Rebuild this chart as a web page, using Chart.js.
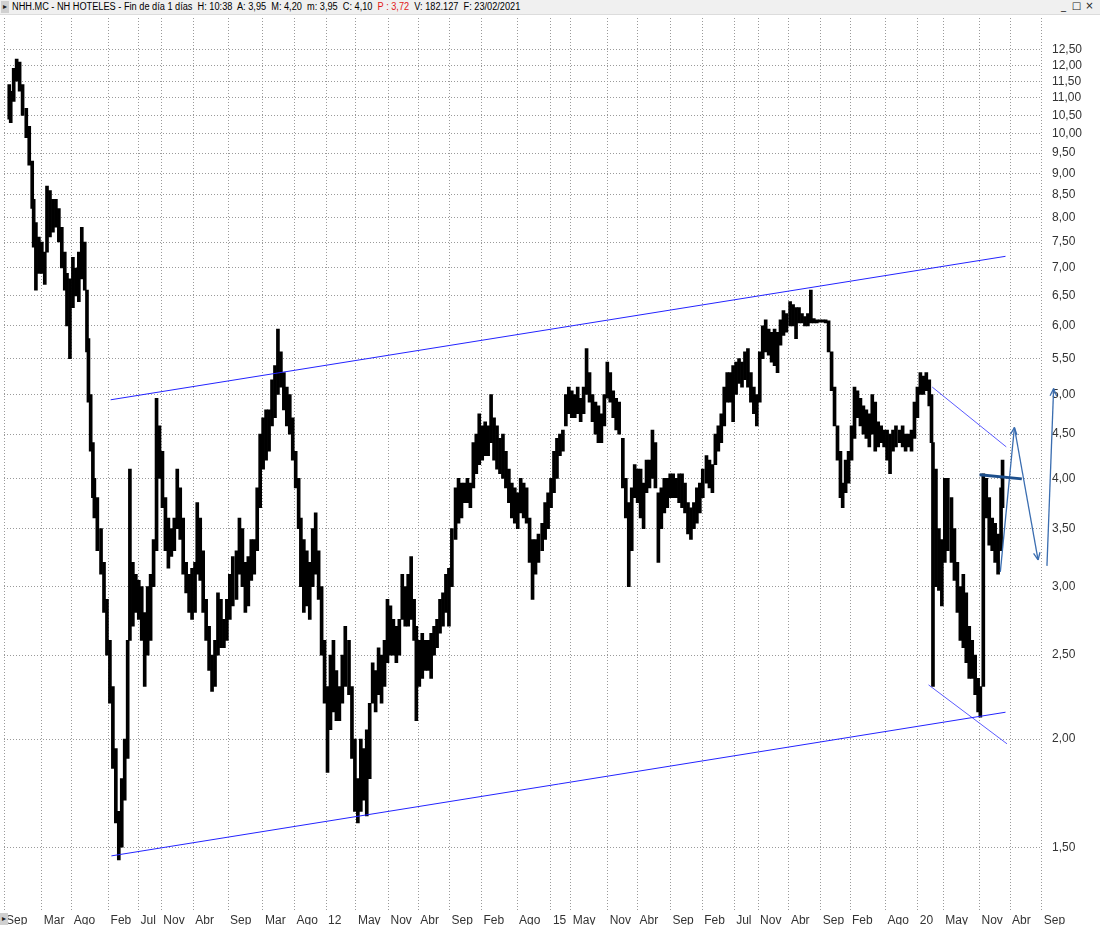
<!DOCTYPE html>
<html>
<head>
<meta charset="utf-8">
<title>NHH.MC - NH HOTELES</title>
<script src="https://cdn.jsdelivr.net/npm/chart.js@4.4.1/dist/chart.umd.min.js"></script>
<style>
html, body { margin: 0; padding: 0; background: #fff; }
#wrap { position: relative; width: 1100px; height: 927px; overflow: hidden; }
#chart { position: absolute; left: 0; top: 0; }
#header {
    position: absolute; left: 0; top: 0; width: 1100px; height: 14px;
    background: #f0f0f0; border-bottom: 1px solid #dcdcdc;
    font: 10px "Liberation Sans", Arial, sans-serif; line-height: 14px;
    color: #000; white-space: pre;
}
#header .txt { position: absolute; left: 12px; top: 0; transform: scaleX(0.92); transform-origin: left center; }
#header .red { color: #e01818; }
.tri {
    position: absolute; width: 8px; height: 12px; background: #d0d0d0;
    font: 8px "DejaVu Sans", sans-serif; line-height: 12px; text-align: center; color: #222;
}
#header .btns { position: absolute; right: 4px; top: 0; font: 10px "DejaVu Sans", sans-serif; color: #222; }
#header .btns span { display: inline-block; width: 13px; text-align: center; }
</style>
</head>
<body>
<div id="wrap">
    <canvas id="chart" width="1100" height="927"></canvas>
    <div id="header"><span class="tri" style="left:1px;top:1px;">&#9656;</span><span class="txt">NHH.MC - NH HOTELES - Fin de día 1 días  H: 10:38  A: 3,95  M: 4,20  m: 3,95  C: 4,10  <span class="red">P : 3,72</span>  V: 182.127  F: 23/02/2021</span><span class="btns"><span>_</span><span>&#9633;</span><span>&#215;</span></span></div>
    <span class="tri" style="left:0;top:913px;">&#9656;</span>
</div>

<script>

// ==========================================
// Data
// ==========================================

const dates = [
    2007.73, 2007.75, 2007.79, 2007.83, 2007.87, 2007.91, 2007.96, 2008.00, 2008.04, 2008.06,
    2008.09, 2008.13, 2008.17, 2008.21, 2008.24, 2008.28, 2008.32, 2008.36, 2008.40, 2008.44,
    2008.48, 2008.51, 2008.55, 2008.59, 2008.63, 2008.67, 2008.71, 2008.75, 2008.78, 2008.80,
    2008.83, 2008.86, 2008.88, 2008.92, 2008.97, 2009.01, 2009.05, 2009.09, 2009.13, 2009.17,
    2009.21, 2009.25, 2009.29, 2009.33, 2009.36, 2009.40, 2009.44, 2009.48, 2009.52, 2009.56,
    2009.60, 2009.64, 2009.68, 2009.72, 2009.76, 2009.80, 2009.84, 2009.88, 2009.92, 2009.96,
    2010.00, 2010.04, 2010.08, 2010.12, 2010.16, 2010.20, 2010.24, 2010.27, 2010.31, 2010.35,
    2010.39, 2010.43, 2010.47, 2010.51, 2010.55, 2010.59, 2010.63, 2010.67, 2010.71, 2010.75,
    2010.80, 2010.84, 2010.88, 2010.92, 2010.96, 2011.00, 2011.04, 2011.08, 2011.12, 2011.16,
    2011.20, 2011.24, 2011.28, 2011.32, 2011.36, 2011.40, 2011.44, 2011.48, 2011.52, 2011.56,
    2011.60, 2011.64, 2011.67, 2011.71, 2011.75, 2011.79, 2011.83, 2011.87, 2011.91, 2011.95,
    2011.99, 2012.03, 2012.07, 2012.11, 2012.15, 2012.19, 2012.23, 2012.27, 2012.32, 2012.36,
    2012.40, 2012.44, 2012.48, 2012.52, 2012.56, 2012.60, 2012.64, 2012.68, 2012.72, 2012.76,
    2012.80, 2012.84, 2012.88, 2012.92, 2012.96, 2013.00, 2013.04, 2013.08, 2013.12, 2013.16,
    2013.20, 2013.23, 2013.27, 2013.31, 2013.35, 2013.39, 2013.43, 2013.47, 2013.51, 2013.55,
    2013.59, 2013.63, 2013.67, 2013.71, 2013.76, 2013.80, 2013.84, 2013.88, 2013.92, 2013.96,
    2014.00, 2014.04, 2014.08, 2014.12, 2014.16, 2014.20, 2014.24, 2014.28, 2014.32, 2014.36,
    2014.40, 2014.44, 2014.48, 2014.52, 2014.56, 2014.60, 2014.64, 2014.68, 2014.72, 2014.76,
    2014.80, 2014.84, 2014.88, 2014.93, 2014.97, 2015.01, 2015.05, 2015.09, 2015.13, 2015.17,
    2015.21, 2015.25, 2015.29, 2015.33, 2015.37, 2015.41, 2015.45, 2015.49, 2015.53, 2015.57,
    2015.61, 2015.65, 2015.69, 2015.73, 2015.77, 2015.81, 2015.85, 2015.89, 2015.93, 2015.97,
    2016.02, 2016.06, 2016.10, 2016.14, 2016.18, 2016.22, 2016.26, 2016.30, 2016.34, 2016.38,
    2016.42, 2016.46, 2016.50, 2016.54, 2016.58, 2016.62, 2016.66, 2016.70, 2016.74, 2016.78,
    2016.82, 2016.86, 2016.90, 2016.94, 2016.98, 2017.02, 2017.06, 2017.10, 2017.15, 2017.19,
    2017.23, 2017.27, 2017.31, 2017.35, 2017.39, 2017.43, 2017.47, 2017.51, 2017.55, 2017.59,
    2017.63, 2017.67, 2017.71, 2017.75, 2017.79, 2017.83, 2017.87, 2017.91, 2017.95, 2017.99,
    2018.03, 2018.07, 2018.11, 2018.15, 2018.19, 2018.23, 2018.28, 2018.32, 2018.36, 2018.40,
    2018.44, 2018.48, 2018.52, 2018.56, 2018.60, 2018.64, 2018.68, 2018.72, 2018.76, 2018.80,
    2018.84, 2018.88, 2018.92, 2018.96, 2018.99, 2019.03, 2019.07, 2019.11, 2019.15, 2019.19,
    2019.23, 2019.27, 2019.31, 2019.35, 2019.39, 2019.43, 2019.47, 2019.51, 2019.55, 2019.59,
    2019.63, 2019.67, 2019.71, 2019.76, 2019.80, 2019.84, 2019.88, 2019.92, 2019.96, 2020.00,
    2020.04, 2020.08, 2020.12, 2020.16, 2020.19, 2020.21, 2020.25, 2020.29, 2020.33, 2020.37,
    2020.41, 2020.46, 2020.50, 2020.54, 2020.58, 2020.62, 2020.66, 2020.70, 2020.74, 2020.78,
    2020.82, 2020.85, 2020.89, 2020.93, 2020.97, 2021.01, 2021.05, 2021.09, 2021.13, 2021.15
];

const highs = [
    11.4, 11.2, 11.9, 12.2, 12.1, 11.4, 10.7, 10.2, 9.3, 8.4,
    7.9, 7.6, 7.5, 7.3, 8.7, 8.6, 8.4, 8.4, 8.2, 7.8,
    7.3, 6.9, 6.8, 7.2, 7.0, 7.3, 7.8, 7.5, 6.6, 5.8,
    5.0, 4.4, 4.0, 3.8, 3.5, 3.2, 2.9, 2.6, 2.3, 1.95,
    1.65, 1.8, 2.0, 2.6, 4.1, 3.2, 3.1, 3.05, 3.0, 2.8,
    3.0, 3.1, 3.4, 4.95, 4.6, 4.3, 3.8, 3.6, 3.5, 3.6,
    4.1, 3.9, 3.6, 3.2, 3.1, 3.15, 3.2, 3.75, 3.6, 3.3,
    2.9, 2.7, 2.5, 2.6, 2.95, 2.9, 2.75, 2.9, 3.1, 3.25,
    3.3, 3.6, 3.5, 3.2, 3.25, 3.4, 3.4, 3.9, 4.5, 4.7,
    4.8, 4.8, 5.2, 5.4, 5.95, 5.6, 5.3, 5.1, 5.0, 4.7,
    4.3, 4.0, 3.6, 3.4, 3.3, 3.2, 3.5, 3.65, 3.3, 3.0,
    2.6, 2.3, 2.5, 2.6, 2.4, 2.3, 2.5, 2.7, 2.6, 2.3,
    2.0, 1.8, 2.0, 1.95, 2.05, 2.2, 2.45, 2.4, 2.55, 2.5,
    2.6, 2.9, 2.85, 2.75, 2.7, 2.75, 3.1, 3.0, 3.1, 3.25,
    2.9, 2.7, 2.6, 2.65, 2.6, 2.6, 2.65, 2.7, 2.75, 2.9,
    2.95, 3.1, 3.15, 3.5, 3.9, 4.0, 3.95, 3.95, 4.0, 3.95,
    4.4, 4.5, 4.75, 4.6, 4.65, 4.6, 5.0, 4.7, 4.6, 4.45,
    4.5, 4.3, 4.1, 3.95, 3.9, 3.85, 4.0, 3.95, 3.9, 3.6,
    3.4, 3.4, 3.45, 3.55, 3.75, 3.85, 4.0, 4.3, 4.45, 4.5,
    4.55, 5.0, 5.1, 5.05, 5.0, 5.1, 4.95, 5.1, 5.65, 5.3,
    5.0, 4.9, 4.85, 4.75, 5.0, 5.45, 5.3, 5.05, 4.95, 4.9,
    4.45, 4.0, 3.75, 3.9, 4.15, 4.1, 4.1, 3.95, 4.2, 4.2,
    4.55, 4.4, 3.85, 3.9, 4.0, 4.0, 4.05, 4.05, 4.0, 4.05,
    4.05, 3.95, 3.75, 3.7, 3.75, 3.9, 3.95, 4.1, 4.25, 4.2,
    4.15, 4.5, 4.6, 4.75, 5.1, 5.3, 5.3, 5.4, 5.45, 5.5,
    5.45, 5.6, 5.65, 5.3, 5.1, 5.0, 5.6, 6.0, 6.1, 5.95,
    5.9, 5.95, 5.9, 6.1, 6.25, 6.2, 6.4, 6.35, 6.3, 6.3,
    6.2, 6.15, 6.2, 6.6, 6.12, 6.1, 6.1, 6.1, 6.1, 6.08,
    5.6, 5.1, 4.6, 4.3, 3.95, 4.2, 4.3, 4.6, 5.1, 5.05,
    4.95, 4.85, 4.8, 4.75, 5.0, 4.9, 4.65, 4.6, 4.55, 4.55,
    4.5, 4.55, 4.6, 4.55, 4.6, 4.5, 4.5, 4.55, 4.9, 5.1,
    5.3, 5.25, 5.3, 5.2, 5.0, 4.4, 4.1, 3.5, 3.4, 4.0,
    4.0, 3.8, 3.5, 3.2, 3.0, 3.1, 2.95, 2.7, 2.6, 2.5,
    2.35, 2.3, 4.05, 4.0, 3.8, 3.6, 3.55, 3.45, 3.9, 4.2
];

const lows = [
    10.4, 10.3, 10.9, 11.5, 11.2, 10.5, 9.9, 9.2, 8.2, 7.4,
    6.6, 6.9, 6.9, 6.7, 7.3, 7.6, 7.7, 7.8, 7.5, 7.0,
    6.6, 6.0, 5.5, 6.3, 6.5, 6.4, 6.8, 6.6, 5.6, 4.9,
    4.3, 3.8, 3.6, 3.3, 3.1, 2.8, 2.5, 2.2, 1.85, 1.6,
    1.45, 1.5, 1.7, 1.9, 2.6, 2.7, 2.8, 2.75, 2.6, 2.3,
    2.5, 2.6, 3.0, 3.3, 4.0, 3.7, 3.3, 3.15, 3.25, 3.3,
    3.5, 3.4, 3.1, 2.95, 2.8, 2.75, 2.8, 3.1, 3.05, 2.8,
    2.6, 2.4, 2.27, 2.3, 2.5, 2.55, 2.55, 2.6, 2.75, 2.85,
    2.9, 3.1, 3.0, 2.8, 2.85, 3.05, 3.1, 3.3, 3.7, 4.1,
    4.2, 4.3, 4.6, 4.7, 5.0, 5.1, 4.8, 4.6, 4.5, 4.2,
    3.9, 3.5, 3.0, 2.8, 2.85, 2.75, 3.0, 3.1, 2.9, 2.5,
    2.2, 1.83, 2.05, 2.15, 2.1, 2.1, 2.2, 2.3, 2.25, 1.9,
    1.65, 1.6, 1.65, 1.7, 1.63, 1.8, 2.2, 2.15, 2.25, 2.2,
    2.3, 2.45, 2.5, 2.5, 2.45, 2.5, 2.75, 2.7, 2.7, 2.75,
    2.6, 2.1, 2.3, 2.35, 2.4, 2.4, 2.35, 2.5, 2.55, 2.65,
    2.7, 2.8, 2.7, 3.0, 3.4, 3.55, 3.6, 3.75, 3.75, 3.7,
    3.9, 4.05, 4.15, 4.2, 4.25, 4.25, 4.4, 4.2, 4.1, 4.05,
    4.0, 3.9, 3.75, 3.6, 3.55, 3.5, 3.65, 3.6, 3.55, 3.2,
    2.9, 3.1, 3.2, 3.3, 3.4, 3.5, 3.7, 3.85, 4.0, 4.25,
    4.3, 4.6, 4.75, 4.7, 4.7, 4.75, 4.65, 4.75, 5.0, 4.9,
    4.65, 4.5, 4.4, 4.4, 4.6, 4.95, 4.9, 4.7, 4.55, 4.5,
    3.9, 3.6, 3.0, 3.3, 3.8, 3.75, 3.6, 3.5, 3.85, 3.9,
    4.0, 3.9, 3.2, 3.5, 3.65, 3.7, 3.8, 3.8, 3.8, 3.75,
    3.7, 3.65, 3.45, 3.4, 3.5, 3.55, 3.65, 3.8, 3.95, 3.9,
    3.85, 4.15, 4.3, 4.4, 4.6, 4.9, 4.9, 4.65, 5.0, 5.15,
    5.1, 5.2, 5.1, 4.9, 4.75, 4.6, 4.9, 5.5, 5.6, 5.55,
    5.45, 5.4, 5.3, 5.7, 5.85, 5.9, 6.0, 6.0, 5.8, 6.05,
    6.05, 6.0, 6.0, 6.05, 6.05, 6.05, 6.06, 6.06, 6.05, 5.6,
    5.05, 4.6, 4.2, 3.8, 3.7, 3.85, 3.95, 4.2, 4.45, 4.7,
    4.6, 4.5, 4.45, 4.35, 4.5, 4.3, 4.35, 4.4, 4.35, 4.2,
    4.05, 4.3, 4.35, 4.4, 4.35, 4.3, 4.35, 4.3, 4.45, 4.7,
    5.0, 5.0, 5.05, 4.85, 4.4, 2.3, 3.0, 2.97, 2.85, 3.2,
    3.3, 3.2, 3.05, 2.8, 2.6, 2.55, 2.45, 2.35, 2.35, 2.25,
    2.15, 2.12, 2.3, 3.6, 3.35, 3.3, 3.2, 3.1, 3.3, 3.7
];

// trend lines drawn on the chart: [date, price]
const upperChannel = [[2009.10, 4.93], [2021.19, 7.22]];
const lowerChannel = [[2009.11, 1.466], [2021.19, 2.148]];
const upperWedge   = [[2020.20, 5.10], [2021.20, 4.35]];
const lowerWedge   = [[2020.15, 2.31], [2021.21, 1.975]];
const neckline     = [[2020.84, 4.04], [2021.41, 3.995]];
const arrowUp1     = [[2021.12, 3.12], [2021.31, 4.58]];
const arrowDown    = [[2021.31, 4.58], [2021.63, 3.22]];
const arrowUp2     = [[2021.75, 3.17], [2021.84, 5.08]];

// axes
const xMin = 2007.659;
const xMax = 2021.683;
const yMin = 1.2702;
const yMax = 13.607;

const xTickValues = [
    2007.659, 2008.170, 2008.574, 2009.072, 2009.476, 2009.785, 2010.216, 2010.687, 2011.158, 2011.584,
    2012.010, 2012.414, 2012.854, 2013.257, 2013.679, 2014.109, 2014.590, 2015.048, 2015.317, 2015.815,
    2016.219, 2016.663, 2017.093, 2017.524, 2017.847, 2018.264, 2018.695, 2019.089, 2019.570, 2020.004,
    2020.350, 2020.839, 2021.252, 2021.679
];

const xTickLabels = [
    "Sep", "Mar", "Ago", "Feb", "Jul", "Nov", "Abr", "Sep", "Mar", "Ago",
    "12", "May", "Nov", "Abr", "Sep", "Feb", "Ago", "15", "May", "Nov",
    "Abr", "Sep", "Feb", "Jul", "Nov", "Abr", "Sep", "Feb", "Ago", "20",
    "May", "Nov", "Abr", "Sep"
];

const yTickValues = [1.5, 2, 2.5, 3, 3.5, 4, 4.5, 5, 5.5, 6, 6.5, 7, 7.5, 8, 8.5, 9, 9.5, 10, 10.5, 11, 11.5, 12, 12.5];


// ==========================================
// Helpers
// ==========================================

function toPoints(pairs) {
    return pairs.map(p => ({ x: p[0], y: p[1] }));
}

function trendLine(pairs, color, width, arrow) {
    return {
        type: "line",
        data: toPoints(pairs),
        borderColor: color,
        borderWidth: width,
        pointRadius: 0,
        fill: false,
        tension: 0,
        clip: false,
        order: 0,
        arrow: arrow
    };
}

// open arrow heads at the end of the arrow segments
const arrowHeads = {
    id: "arrowHeads",
    afterDatasetsDraw(chart) {
        const ctx = chart.ctx;
        chart.data.datasets.forEach((ds, i) => {
            if (!ds.arrow) return;
            const pts = chart.getDatasetMeta(i).data;
            const a = pts[pts.length - 2];
            const b = pts[pts.length - 1];
            const ang = Math.atan2(b.y - a.y, b.x - a.x);
            ctx.save();
            ctx.strokeStyle = ds.borderColor;
            ctx.lineWidth = ds.borderWidth;
            ctx.beginPath();
            [-1, 1].forEach(s => {
                ctx.moveTo(b.x, b.y);
                ctx.lineTo(b.x - 8 * Math.cos(ang + s * 0.42), b.y - 8 * Math.sin(ang + s * 0.42));
            });
            ctx.stroke();
            ctx.restore();
        });
    }
};


// ==========================================
// Chart
// ==========================================

const labelFont = { family: "'Liberation Sans', Arial, sans-serif", size: 12 };

new Chart(document.getElementById("chart"), {

    type: "bar",

    data: {
        datasets: [
            {
                type: "bar",
                data: dates.map((d, i) => ({ x: d, y: [lows[i], highs[i]] })),
                backgroundColor: "#000",
                borderWidth: 0,
                barThickness: 3,
                grouped: false,
                order: 2
            },
            trendLine(upperChannel, "#2323ff", 1, false),
            trendLine(lowerChannel, "#2323ff", 1, false),
            trendLine(upperWedge, "#5a5aff", 1, false),
            trendLine(lowerWedge, "#5a5aff", 1, false),
            trendLine(neckline, "#1d4f8c", 3, false),
            trendLine(arrowUp1, "#3a6db0", 1.3, true),
            trendLine(arrowDown, "#3a6db0", 1.3, true),
            trendLine(arrowUp2, "#3a6db0", 1.3, true)
        ]
    },

    options: {
        responsive: false,
        animation: false,
        devicePixelRatio: 1,
        layout: {
            autoPadding: false,
            padding: { top: 18, left: 0, right: 0, bottom: 0 }
        },
        plugins: {
            legend: { display: false },
            tooltip: { enabled: false }
        },
        scales: {
            x: {
                type: "linear",
                min: xMin,
                max: xMax,
                offset: false,
                afterBuildTicks: s => { s.ticks = xTickValues.map(v => ({ value: v })); },
                afterFit: s => { s.height = 15; },
                grid: { color: "#9a9a9a", drawTicks: false, offset: false },
                border: { display: false, dash: [1, 2] },
                ticks: {
                    autoSkip: false,
                    maxRotation: 0,
                    minRotation: 0,
                    align: "start",
                    labelOffset: 2,
                    padding: 4,
                    color: "#333",
                    font: labelFont,
                    callback: (v, i) => xTickLabels[i]
                }
            },
            y: {
                type: "logarithmic",
                position: "right",
                min: yMin,
                max: yMax,
                afterBuildTicks: s => { s.ticks = yTickValues.map(v => ({ value: v })); },
                afterFit: s => { s.width = 58; },
                grid: { color: "#9a9a9a", drawTicks: false },
                border: { display: false, dash: [1, 2] },
                ticks: {
                    padding: 10,
                    color: "#333",
                    font: labelFont,
                    callback: v => Number(v).toFixed(2).replace(".", ",")
                }
            }
        }
    },

    plugins: [arrowHeads]

});

</script>
</body>
</html>
